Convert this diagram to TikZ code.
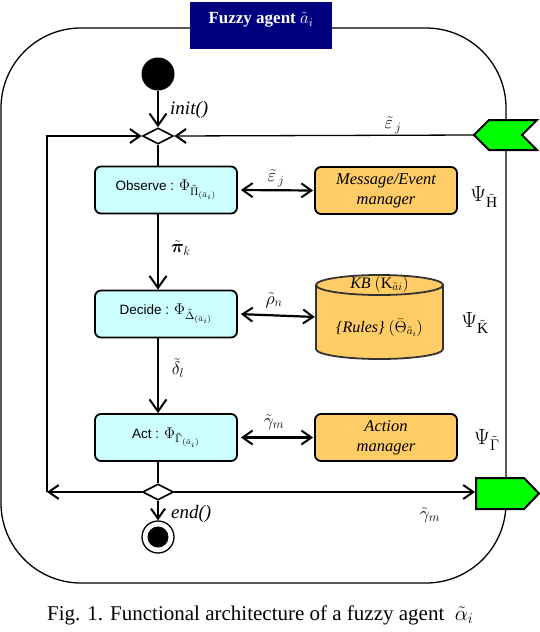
\RequirePackage{fix-cm}
\documentclass[tikz,border=0pt]{standalone}
\usepackage{amsmath,amssymb,bm,graphicx}
\usepackage{fontspec}
\setmainfont{Liberation Serif}
\setsansfont{Liberation Sans}
\usetikzlibrary{arrows.meta,shapes.geometric}
\definecolor{boxcyan}{HTML}{CCFFFF}
\definecolor{boxorange}{HTML}{FFCC66}
\definecolor{flaggreen}{HTML}{00FF00}
\definecolor{titlenavy}{HTML}{000080}
\newcommand{\mymath}[2]{\scalebox{#1}{$#2$}}
\begin{document}
\begin{tikzpicture}[x=1pt,y=-1pt,
  flowtip/.tip={Straight Barb[length=12pt,width=17pt,line width=2pt]},
  smalltip/.tip={Straight Barb[length=10pt,width=14pt,line width=2pt]},
  flow/.style={line width=2.2pt},
  loopline/.style={line width=1.3pt},
  proc/.style={draw, line width=1.8pt, rounded corners=6pt, fill=boxcyan,
    minimum width=142pt, minimum height=47pt, inner sep=0pt,
    font=\sffamily\fontsize{13.5}{15}\selectfont},
  mgr/.style={proc, fill=boxorange, align=center,
    font=\itshape\fontsize{16.5}{20}\selectfont},
  lbl/.style={font=\fontsize{18}{20}\selectfont, inner sep=0pt},
  psi/.style={font=\fontsize{22}{24}\selectfont, inner sep=0pt},
  dmd/.style={diamond, draw, line width=1.6pt, fill=white,
    minimum width=31pt, minimum height=16pt, inner sep=0pt},
  flagshape/.style={draw, line width=2pt, fill=flaggreen, line join=miter},
]
\useasboundingbox (0,0) rectangle (540,632);

% outer agent frame
\node[draw, line width=1.3pt, rounded corners=80pt, minimum width=505pt,
  minimum height=555pt, inner sep=0pt] (agent) at (253.5,305.5) {};

% title
\node[fill=titlenavy, minimum width=142pt, minimum height=47pt, inner sep=0pt] (title) at (261,25.5) {};
\node[text=white, font=\bfseries\fontsize{17}{19}\selectfont, inner sep=0pt] (titletext) at (261,20) {Fuzzy agent $\tilde{a}_i$};

% start, decisions, end
\node[circle, fill=black, minimum size=33pt, inner sep=0pt] (start) at (158,74) {};
\node[dmd] (td) at (158,136) {};
\node[dmd] (bd) at (158,492) {};
\node[circle, draw, line width=1.3pt, fill=white, minimum size=32pt, inner sep=0pt] (endn) at (158,537) {};
\node[circle, fill=black, minimum size=21pt, inner sep=0pt] (endin) at (endn) {};

% processes
\node[proc] (obs) at (166,190) {Observe : \mymath{1.15}{\Phi_{\tilde{\Pi}_{(\bar{a}_i)}}}};
\node[proc] (dec) at (166,314) {Decide : \mymath{1.15}{\Phi_{\tilde{\Delta}_{(\bar{a}_i)}}}};
\node[proc] (act) at (166,437.5) {Act : \mymath{1.15}{\Phi_{\tilde{\Gamma}_{(\bar{a}_i)}}}};

% managers
\node[mgr] (msg) at (386,190.5) {Message/Event\\manager};
\node[mgr] (actm) at (386,437.5) {Action\\manager};

% knowledge base cylinder
\path[draw=black!80, line width=1.8pt, fill=boxorange]
  (316,285) -- (316,349) arc[start angle=180, end angle=360, x radius=63.5pt, y radius=10pt]
  -- (443,285) arc[start angle=0, end angle=180, x radius=63.5pt, y radius=10pt] -- cycle;
\draw[black!80, line width=1.8pt] (316,285) arc[start angle=180, end angle=360, x radius=63.5pt, y radius=10pt];
\node[minimum width=127pt, minimum height=84pt, inner sep=0pt] (kb) at (379.5,317) {};
\node[font=\fontsize{16}{18}\selectfont, inner sep=0pt] (kbtop) at (379.5,284) {\textit{KB} $(\bar{\mathrm{K}}_{\tilde{a}i})$};
\node[font=\fontsize{16}{18}\selectfont, inner sep=0pt] (kbrules) at (379.5,328) {\textit{\{Rules\}} $(\bar{\Theta}_{\tilde{a}_i})$};

% green signal flags
\path[flagshape] (474,135) -- (489,120) -- (537,120) -- (522,135) -- (537,150) -- (489,150) -- cycle;
\coordinate (ftip) at (474,135);
\path[flagshape] (476,478) -- (524,478) -- (539,493.5) -- (524,509) -- (476,509) -- cycle;
\coordinate (fin) at (475,492);

% main flow
\draw[flow, -{flowtip}] (start) -- (td);
\draw[flow] (td.south) -- (td.south |- obs.north);
\draw[flow, -{flowtip}] (td.south |- obs.south) -- (td.south |- dec.north);
\draw[flow, -{flowtip}] (td.south |- dec.south) -- (td.south |- act.north);
\draw[flow] (td.south |- act.south) -- (bd.north);
\draw[flow, -{smalltip}] (bd.south) -- (endn.north);

% double arrows
\draw[flow, {smalltip}-{smalltip}, shorten <=3pt, shorten >=1pt] (obs.east) -- (msg.west);
\draw[flow, {smalltip}-{smalltip}, shorten <=3pt, shorten >=1pt] (dec.east) -- (kb.west);
\draw[flow, {smalltip}-{smalltip}, shorten <=3pt, shorten >=1pt] (act.east) -- (actm.west);

% loop lines
\coordinate (lb) at (47,492);
\draw[loopline, -{smalltip}] (bd.west) -- (lb);
\draw[loopline, -{smalltip}] (lb) |- (td.west);
\draw[loopline, -{smalltip}] (ftip) -- (td.east);
\draw[loopline, -{smalltip}] (bd.east) -- (fin);

% labels
\node[font=\itshape\fontsize{19}{21}\selectfont, anchor=west, inner sep=0pt] (initl) at (170,110) {init()};
\node[font=\itshape\fontsize{19}{21}\selectfont, anchor=west, inner sep=0pt] (endl) at (171,514) {end()};
\node[lbl] (e1) at (393,125) {$\tilde{\varepsilon}_{\,j}$};
\node[lbl] (e2) at (276,178) {$\tilde{\varepsilon}_{\,j}$};
\node[lbl] (pk) at (181,248) {$\tilde{\bm{\pi}}_k$};
\node[lbl] (rn) at (274,300) {$\tilde{\rho}_n$};
\node[lbl] (dl) at (178,368) {$\tilde{\delta}_l$};
\node[lbl] (gm1) at (274,422) {$\tilde{\gamma}_m$};
\node[lbl] (gm2) at (430,515) {$\tilde{\gamma}_m$};
\node[psi] (psih) at (484,197) {$\Psi_{\tilde{\mathrm{H}}}$};
\node[psi] (psik) at (475,323) {$\Psi_{\tilde{\mathrm{K}}}$};
\node[psi] (psig) at (487,440) {$\Psi_{\tilde{\Gamma}}$};

% caption
\node[font=\fontsize{21}{24}\selectfont, anchor=west, inner sep=0pt] (caption) at (47,615) {Fig. 1. Functional architecture of a fuzzy agent \ $\tilde{\alpha}_i$};
\end{tikzpicture}
\end{document}
